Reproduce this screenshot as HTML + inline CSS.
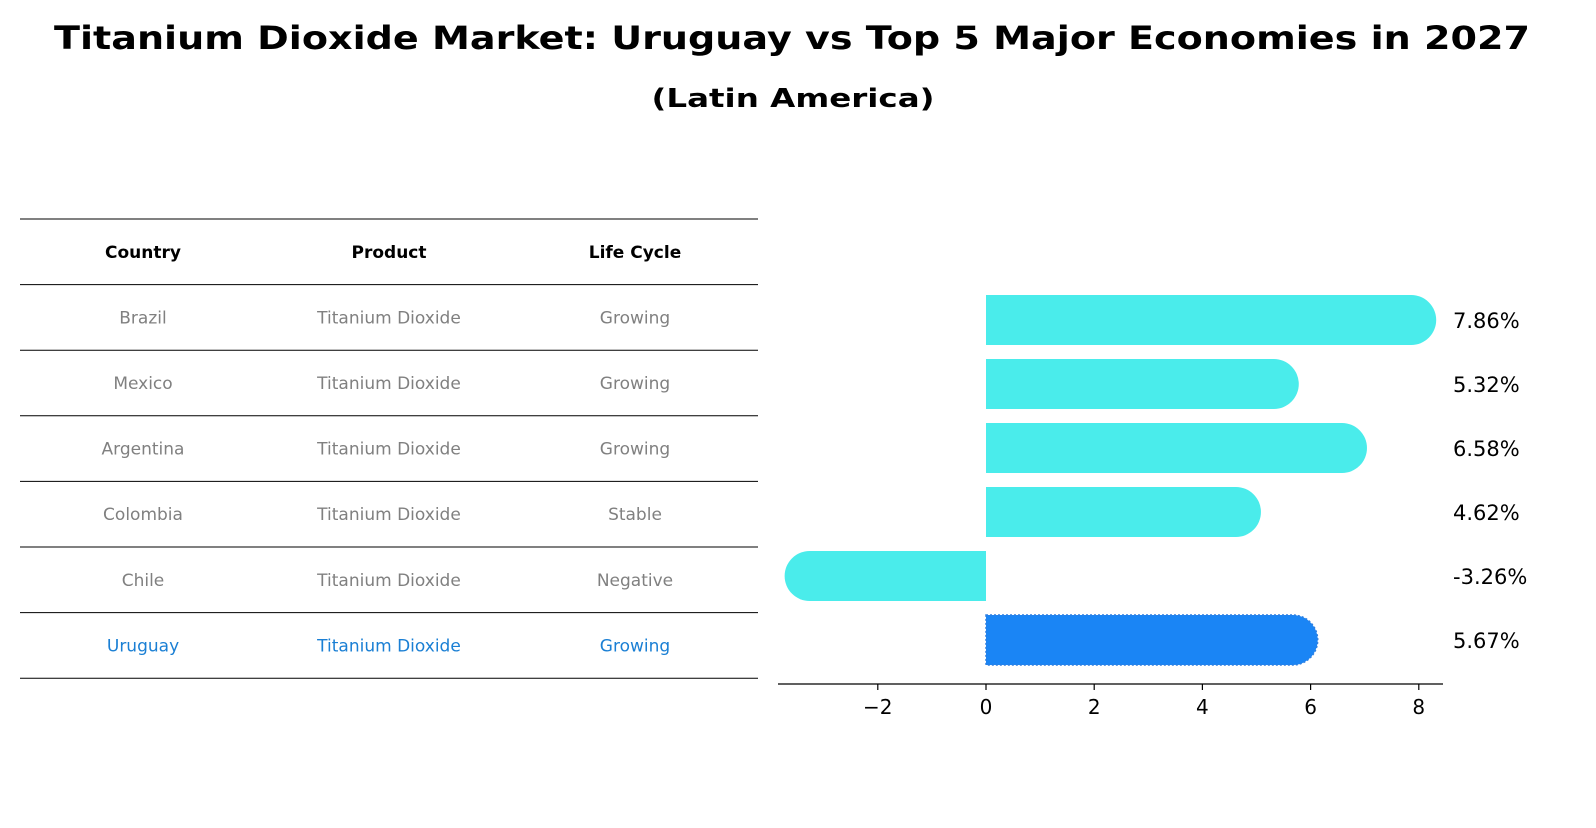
<!DOCTYPE html>
<html><head><meta charset="utf-8"><style>
body{margin:0;background:#fff;font-family:"Liberation Sans","DejaVu Sans",sans-serif;}
</style></head><body>
<svg width="1596" height="823" xmlns="http://www.w3.org/2000/svg" font-family="DejaVu Sans, Liberation Sans, sans-serif">
<text x="792" y="49" text-anchor="middle" font-size="32" font-weight="bold" textLength="1476" lengthAdjust="spacingAndGlyphs">Titanium Dioxide Market: Uruguay vs Top 5 Major Economies in 2027</text>
<text x="793" y="107" text-anchor="middle" font-size="26" font-weight="bold" textLength="283" lengthAdjust="spacingAndGlyphs">(Latin America)</text>
<g id="table"></g>
<g id="bars"></g>
</svg>
<script>
const countries=["Brazil","Mexico","Argentina","Colombia","Chile","Uruguay"];
const products=["Titanium Dioxide","Titanium Dioxide","Titanium Dioxide","Titanium Dioxide","Titanium Dioxide","Titanium Dioxide"];
const lifeCycles=["Growing","Growing","Growing","Stable","Negative","Growing"];
const values=[7.86,5.32,6.58,4.62,-3.26,5.67];
const xTicks=[-2,0,2,4,6,8];
const NS="http://www.w3.org/2000/svg";
function mk(tag,attrs,parent,text){const e=document.createElementNS(NS,tag);for(const k in attrs)e.setAttribute(k,attrs[k]);if(text!==undefined)e.textContent=text;parent.appendChild(e);return e;}
const tg=document.getElementById('table');
const rowH=65.6, tableTop=219, colX=[143,389,635];
const lineYs=[];for(let i=0;i<=countries.length+1;i++)lineYs.push(tableTop+i*rowH);
lineYs.forEach((y,i)=>{const l=mk('line',{x1:20,x2:758,y1:y,y2:y,stroke:'#000','stroke-width':1},tg);

});
["Country","Product","Life Cycle"].forEach((h,j)=>{const t=mk('text',{x:colX[j],y:tableTop+rowH/2+6,'text-anchor':'middle','font-size':17,'font-weight':'bold'},tg,h);

});
countries.forEach((c,i)=>{const y=tableTop+(i+1)*rowH+rowH/2+6;const col=c==="Uruguay"?'#1a7fd4':'#808080';
[c,products[i],lifeCycles[i]].forEach((v,j)=>{const t=mk('text',{x:colX[j],y:y,'text-anchor':'middle','font-size':17,fill:col},tg,v);

});});
const bg=document.getElementById('bars');
const x0=986, ppu=54.1, yc0=320, step=64, bh=50;
const xs=v=>x0+v*ppu;
const ax=mk('line',{x1:778,x2:1443,y1:684,y2:684,stroke:'#000','stroke-width':1.3},bg);


xTicks.forEach(t=>{const x=xs(t);const tl=mk('line',{x1:x,x2:x,y1:684,y2:690,stroke:'#000','stroke-width':1.2},bg);


const lb=mk('text',{x:x,y:714,'text-anchor':'middle','font-size':20},bg,t<0?'\u2212'+(-t):String(t));

});
values.forEach((v,i)=>{const yc=yc0+i*step;const col=countries[i]==="Uruguay"?'#1a85f5':'#4aeceb';
const xe=xs(v);const r=bh/2;let d;
if(v>=0)d=`M${x0},${yc-r}H${xe}A${r},${r} 0 0 1 ${xe},${yc+r}H${x0}Z`;
else d=`M${x0},${yc-r}H${xe}A${r},${r} 0 0 0 ${xe},${yc+r}H${x0}Z`;
const p=mk('path',{d:d,fill:col},bg);
if(countries[i]==="Uruguay"){p.setAttribute('stroke','#2f7fe0');p.setAttribute('stroke-dasharray','2 2');p.setAttribute('stroke-width','1.5');}


const t=mk('text',{x:1453,y:yc+8,'font-size':21},bg,v.toFixed(2)+'%');

});
</script>
</body></html>
